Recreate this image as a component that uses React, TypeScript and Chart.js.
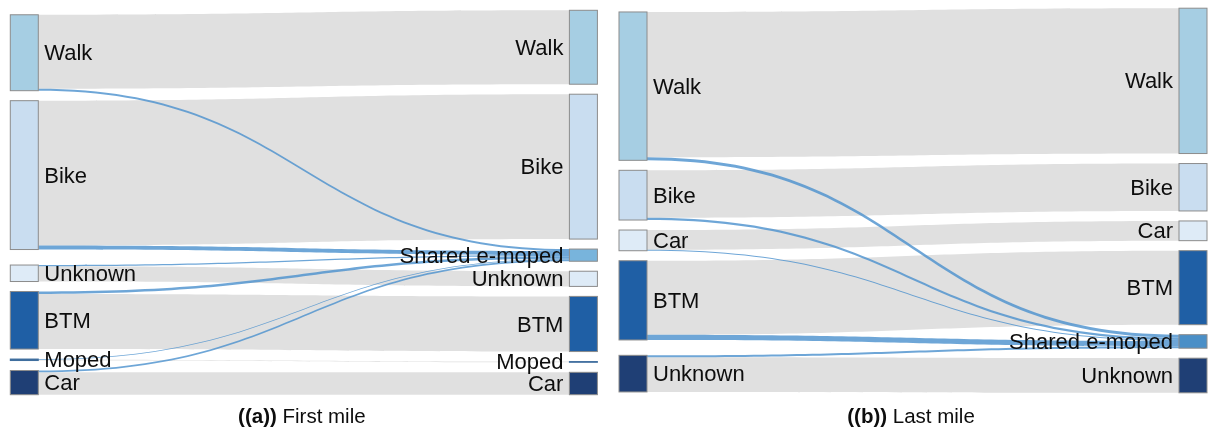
import React, { useEffect, useRef } from "react";
import { Chart, registerables } from "chart.js";

Chart.register(...registerables);

// ---------------- data ----------------
const SHARED = "Shared e-moped";

// (a) First mile
const FIRST_SOURCE_NODES = ["Walk", "Bike", "Unknown", "BTM", "Moped", "Car"];
const FIRST_TARGET_NODES = ["Walk", "Bike", "Shared e-moped", "Unknown", "BTM", "Moped", "Car"];
const FIRST_STAY = [74, 145, 15.2, 55.2, 0.8, 22.4];
const FIRST_TO_SHARED = [2, 4, 1.3, 2.4, 0.7, 1.8];

// (b) Last mile
const LAST_SOURCE_NODES = ["Walk", "Bike", "Car", "BTM", "Unknown"];
const LAST_TARGET_NODES = ["Walk", "Bike", "Car", "BTM", "Shared e-moped", "Unknown"];
const LAST_STAY = [145.3, 47.4, 19.7, 74, 34.6];
const LAST_TO_SHARED = [3, 2.3, 1.0, 5.2, 2.0];

const CAPTION_FIRST = ["((a))", " First mile"];
const CAPTION_LAST = ["((b))", " Last mile"];

// ---------------- style ----------------
const FIRST_COLORS: Record<string, string> = {
  Walk: "#a6cee3",
  Bike: "#c9ddf0",
  Unknown: "#deebf7",
  BTM: "#1f5fa5",
  Moped: "#3f6e9e",
  Car: "#1f3f75",
  "Shared e-moped": "#78b4dc",
};
const LAST_COLORS: Record<string, string> = {
  Walk: "#a6cee3",
  Bike: "#c9ddf0",
  Car: "#deebf7",
  BTM: "#1f5fa5",
  "Shared e-moped": "#4a8fc7",
  Unknown: "#1f3f75",
};
const STAY_COLOR = "#e0e0e0";
const SHARED_LINK_COLOR = "rgba(74,144,205,0.8)";
const NODE_BORDER = "#8c8c8c";
const NODE_PAD = 10; // value units
const NODE_W = 28; // px
const FONT = "'Liberation Sans', Arial, sans-serif";

type SNode = {
  name: string;
  col: number;
  value: number;
  y0: number;
  y1: number;
  color: string;
  out: SLink[];
  inn: SLink[];
};
type SLink = {
  source: SNode;
  target: SNode;
  value: number;
  color: string;
  kind: number;
  sy0: number;
  ty0: number;
};

function buildSankey(
  sources: string[],
  targets: string[],
  stay: number[],
  toShared: number[],
  colors: Record<string, string>
) {
  const mkNode = (name: string, col: number): SNode => ({
    name,
    col,
    value: 0,
    y0: 0,
    y1: 0,
    color: colors[name],
    out: [],
    inn: [],
  });
  const left = sources.map((n) => mkNode(n, 0));
  const right = targets.map((n) => mkNode(n, 1));
  const links: SLink[] = [];
  const add = (s: SNode, t: SNode, v: number, color: string, kind: number) => {
    const l: SLink = { source: s, target: t, value: v, color, kind, sy0: 0, ty0: 0 };
    links.push(l);
    s.out.push(l);
    t.inn.push(l);
    s.value += v;
    t.value += v;
  };
  sources.forEach((name, i) => {
    add(left[i], right[targets.indexOf(name)], stay[i], STAY_COLOR, 0);
    add(left[i], right[targets.indexOf(SHARED)], toShared[i], SHARED_LINK_COLOR, 1);
  });
  // right column stacked
  let y = 0;
  right.forEach((n) => {
    n.y0 = y;
    n.y1 = y + n.value;
    y = n.y1 + NODE_PAD;
  });
  const H = y - NODE_PAD;
  // left column relaxed toward targets
  left.forEach((n) => {
    let c = 0;
    let w = 0;
    n.out.forEach((l) => {
      c += (l.value * (l.target.y0 + l.target.y1)) / 2;
      w += l.value;
    });
    const mid = c / w;
    n.y0 = mid - n.value / 2;
    n.y1 = mid + n.value / 2;
  });
  let yy = 0;
  left.forEach((n) => {
    if (n.y0 < yy) {
      n.y1 += yy - n.y0;
      n.y0 = yy;
    }
    yy = n.y1 + NODE_PAD;
  });
  let lim = H;
  for (let i = left.length - 1; i >= 0; i--) {
    const n = left[i];
    if (n.y1 > lim) {
      const d = n.y1 - lim;
      n.y0 -= d;
      n.y1 -= d;
    }
    lim = n.y0 - NODE_PAD;
  }
  const nodes = [...left, ...right];
  nodes.forEach((n) => {
    n.out.sort((a, b) => a.target.y0 - b.target.y0);
    let o = n.y0;
    n.out.forEach((l) => {
      l.sy0 = o;
      o += l.value;
    });
    n.inn.sort((a, b) => a.source.y0 - b.source.y0);
    o = n.y0;
    n.inn.forEach((l) => {
      l.ty0 = o;
      o += l.value;
    });
  });
  links.sort((a, b) => a.kind - b.kind);
  return { nodes, links, H };
}

function makePlugin(graph: ReturnType<typeof buildSankey>, caption: string[]) {
  return {
    id: "sankeyDraw",
    afterDatasetsDraw(chart: any) {
      const { ctx, scales, chartArea } = chart;
      const xs = scales.x;
      const ys = scales.y;
      const xL = xs.getPixelForValue(0);
      const xR = xs.getPixelForValue(1);
      const x0 = xL + NODE_W;
      const x1 = xR - NODE_W;
      const xm = (x0 + x1) / 2;
      ctx.save();
      // links
      graph.links.forEach((l) => {
        const a0 = ys.getPixelForValue(l.sy0);
        const a1 = ys.getPixelForValue(l.sy0 + l.value);
        const b0 = ys.getPixelForValue(l.ty0);
        const b1 = ys.getPixelForValue(l.ty0 + l.value);
        ctx.beginPath();
        ctx.moveTo(x0, a0);
        ctx.bezierCurveTo(xm, a0, xm, b0, x1, b0);
        ctx.lineTo(x1, b1);
        ctx.bezierCurveTo(xm, b1, xm, a1, x0, a1);
        ctx.closePath();
        ctx.fillStyle = l.color;
        ctx.fill();
      });
      // nodes
      graph.nodes.forEach((n) => {
        const nx = n.col === 0 ? xL : xR - NODE_W;
        const t = ys.getPixelForValue(n.y0);
        const b = ys.getPixelForValue(n.y1);
        ctx.fillStyle = n.color;
        if (b - t < 3) {
          ctx.fillRect(nx - 0.5, t - 0.5, NODE_W + 1, b - t + 1);
        } else {
          ctx.fillRect(nx, t, NODE_W, b - t);
          ctx.strokeStyle = NODE_BORDER;
          ctx.lineWidth = 1;
          ctx.strokeRect(nx, t, NODE_W, b - t);
        }
      });
      // labels
      ctx.font = `22px ${FONT}`;
      ctx.fillStyle = "#0d0d0d";
      ctx.textBaseline = "middle";
      graph.nodes.forEach((n) => {
        const mid = (ys.getPixelForValue(n.y0) + ys.getPixelForValue(n.y1)) / 2;
        if (n.col === 0) {
          ctx.textAlign = "left";
          ctx.fillText(n.name, xL + NODE_W + 6, mid + 1.5);
        } else {
          ctx.textAlign = "right";
          ctx.fillText(n.name, xR - NODE_W - 6, mid + 1.5);
        }
      });
      // caption
      ctx.textBaseline = "alphabetic";
      ctx.textAlign = "left";
      const bold = `bold 20.5px ${FONT}`;
      const reg = `20.5px ${FONT}`;
      ctx.font = bold;
      const w1 = ctx.measureText(caption[0]).width;
      ctx.font = reg;
      const w2 = ctx.measureText(caption[1]).width;
      const cx = (chartArea.left + chartArea.right) / 2 - 2;
      const sx = cx - (w1 + w2) / 2;
      const by = chart.height - 9;
      ctx.font = bold;
      ctx.fillText(caption[0], sx, by);
      ctx.font = reg;
      ctx.fillText(caption[1], sx + w1, by);
      ctx.restore();
    },
  };
}

function Panel(props: {
  graph: ReturnType<typeof buildSankey>;
  caption: string[];
  width: number;
  height: number;
  padding: { left: number; right: number; top: number; bottom: number };
}) {
  const ref = useRef<HTMLCanvasElement>(null);
  useEffect(() => {
    const chart = new Chart(ref.current as HTMLCanvasElement, {
      type: "scatter",
      data: { datasets: [] },
      options: {
        animation: false,
        responsive: false,
        events: [],
        layout: { padding: props.padding },
        plugins: { legend: { display: false }, tooltip: { enabled: false }, title: { display: false } },
        scales: {
          x: { type: "linear", min: 0, max: 1, display: false },
          y: { type: "linear", min: 0, max: props.graph.H, reverse: true, display: false },
        },
      },
      plugins: [makePlugin(props.graph, props.caption)],
    } as any);
    return () => chart.destroy();
  }, []);
  return <canvas ref={ref} width={props.width} height={props.height} style={{ display: "block" }} />;
}

export default function App() {
  const first = buildSankey(FIRST_SOURCE_NODES, FIRST_TARGET_NODES, FIRST_STAY, FIRST_TO_SHARED, FIRST_COLORS);
  const last = buildSankey(LAST_SOURCE_NODES, LAST_TARGET_NODES, LAST_STAY, LAST_TO_SHARED, LAST_COLORS);
  return (
    <div style={{ position: "absolute", left: 0, top: 0, width: 1208, height: 432, background: "#fff", overflow: "hidden" }}>
      <div style={{ position: "absolute", left: 0, top: 0 }}>
        <Panel graph={first} caption={CAPTION_FIRST} width={605} height={432} padding={{ left: 10.3, right: 7.6, top: 10.3, bottom: 37.3 }} />
      </div>
      <div style={{ position: "absolute", left: 605, top: 0 }}>
        <Panel graph={last} caption={CAPTION_LAST} width={603} height={432} padding={{ left: 14, right: 1, top: 8.2, bottom: 39.2 }} />
      </div>
    </div>
  );
}
